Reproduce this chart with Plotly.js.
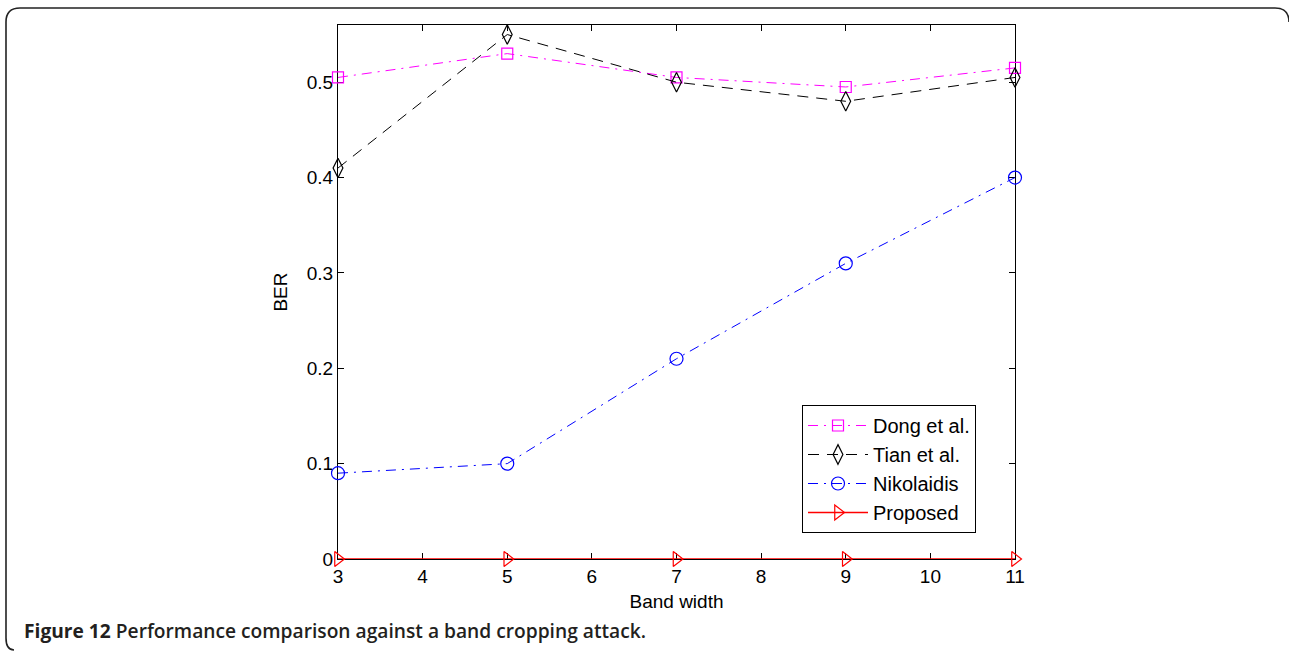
<!DOCTYPE html>
<html>
<head>
<meta charset="utf-8">
<script src="https://cdn.plot.ly/plotly-3.0.1.min.js"></script>
<style>
html,body{margin:0;padding:0;background:#fff;}
#chart{width:1289px;height:651px;}
</style>
</head>
<body>
<div id="chart"></div>
<script>
// ---- data ----
const bandWidth = [3, 5, 7, 9, 11];
const dongBER = [0.505, 0.53, 0.505, 0.495, 0.515];
const tianBER = [0.41, 0.55, 0.50, 0.48, 0.505];
const nikolaidisBER = [0.09, 0.10, 0.21, 0.31, 0.40];
const proposedBER = [0, 0, 0, 0, 0];
const seriesNames = ["Dong et al.", "Tian et al.", "Nikolaidis", "Proposed"];
const xTicks = [3, 4, 5, 6, 7, 8, 9, 10, 11];
const yTicks = [0, 0.1, 0.2, 0.3, 0.4, 0.5];
const yTickText = ["0", "0.1", "0.2", "0.3", "0.4", "0.5"];

// ---- layout geometry (pixels) ----
const W = 1289, H = 651;
const L = 338, R = 1015, T = 25, B = 559;
const px = x => (x - L) / (R - L);
const py = y => (B - y) / (B - T);

const font = "Liberation Sans, Arial, Helvetica, sans-serif";

const traces = [
  {x: bandWidth, y: dongBER, name: seriesNames[0], mode: "lines+markers", cliponaxis: false,
   line: {color: "#ff00ff", width: 1, dash: "10px,6px,2px,6px"},
   marker: {symbol: "square-open", size: 11, color: "#ff00ff", line: {width: 1.2}}},
  {x: bandWidth, y: tianBER, name: seriesNames[1], mode: "lines+markers", cliponaxis: false,
   line: {color: "#000000", width: 1, dash: "11px,8px"},
   marker: {symbol: "diamond-tall-open", size: 14, color: "#000000", line: {width: 1.2}}},
  {x: bandWidth, y: nikolaidisBER, name: seriesNames[2], mode: "lines+markers", cliponaxis: false,
   line: {color: "#0000ff", width: 1, dash: "10px,6px,2px,6px"},
   marker: {symbol: "circle-open", size: 13, color: "#0000ff", line: {width: 1.2}}},
  {x: bandWidth, y: proposedBER, name: seriesNames[3], mode: "lines+markers", cliponaxis: false,
   line: {color: "#ff0000", width: 1.3},
   marker: {symbol: "triangle-right-open", size: 13, color: "#ff0000", line: {width: 1.2}}}
];

// outer frame path (pixel coords converted to paper coords)
const framePts = [
  ["M", 1289, 22], ["Q", 1289, 8, 1275, 8], ["L", 20, 8], ["Q", 6, 8, 6, 22],
  ["L", 6, 638], ["Q", 6, 650, 14, 650]
];
const framePath = framePts.map(p => {
  let s = p[0];
  for (let i = 1; i < p.length; i += 2) s += " " + px(p[i]).toFixed(5) + "," + py(p[i + 1]).toFixed(5);
  return s;
}).join(" ");

const layout = {
  width: W, height: H,
  margin: {l: L, r: W - R, t: T, b: H - B, pad: 0},
  paper_bgcolor: "#ffffff", plot_bgcolor: "#ffffff",
  font: {family: font, size: 19, color: "#000000"},
  showlegend: true,
  xaxis: {
    range: [3, 11], tickvals: xTicks, ticks: "inside", ticklen: 6, tickwidth: 1, tickcolor: "#000",
    showline: true, linecolor: "#000", linewidth: 1, mirror: "ticks", showgrid: false, zeroline: false,
    layer: "below traces",
    tickfont: {family: font, size: 19},
    title: {text: "Band width", font: {family: font, size: 19}, standoff: 8}
  },
  yaxis: {
    range: [0, 0.56], tickvals: yTicks, ticktext: yTickText, ticks: "inside", ticklen: 6, tickwidth: 1, tickcolor: "#000",
    showline: true, linecolor: "#000", linewidth: 1, mirror: "ticks", showgrid: false, zeroline: false,
    layer: "below traces",
    tickfont: {family: font, size: 19},
    title: {text: "BER", font: {family: font, size: 19}, standoff: 14}
  },
  legend: {
    x: px(802), y: py(405), xanchor: "left", yanchor: "top",
    bgcolor: "#ffffff", bordercolor: "#000000", borderwidth: 1,
    font: {family: font, size: 20, color: "#000"},
    itemwidth: 60, tracegroupgap: 0
  },
  shapes: [
    {type: "path", xref: "paper", yref: "paper", path: framePath, line: {color: "#222222", width: 1.6}, layer: "below"}
  ],
  annotations: [
    {xref: "paper", yref: "paper", x: px(22), y: py(630), xanchor: "left", yanchor: "middle", showarrow: false,
     text: "<span style='font-weight:700'>Figure 12</span> <span style='font-weight:600'>Performance comparison against a band cropping attack.</span>",
     font: {family: "Open Sans, Noto Sans, sans-serif", size: 19.2, color: "#231f20"}}
  ]
};

Plotly.newPlot("chart", traces, layout, {displayModeBar: false, staticPlot: true});
</script>
</body>
</html>
